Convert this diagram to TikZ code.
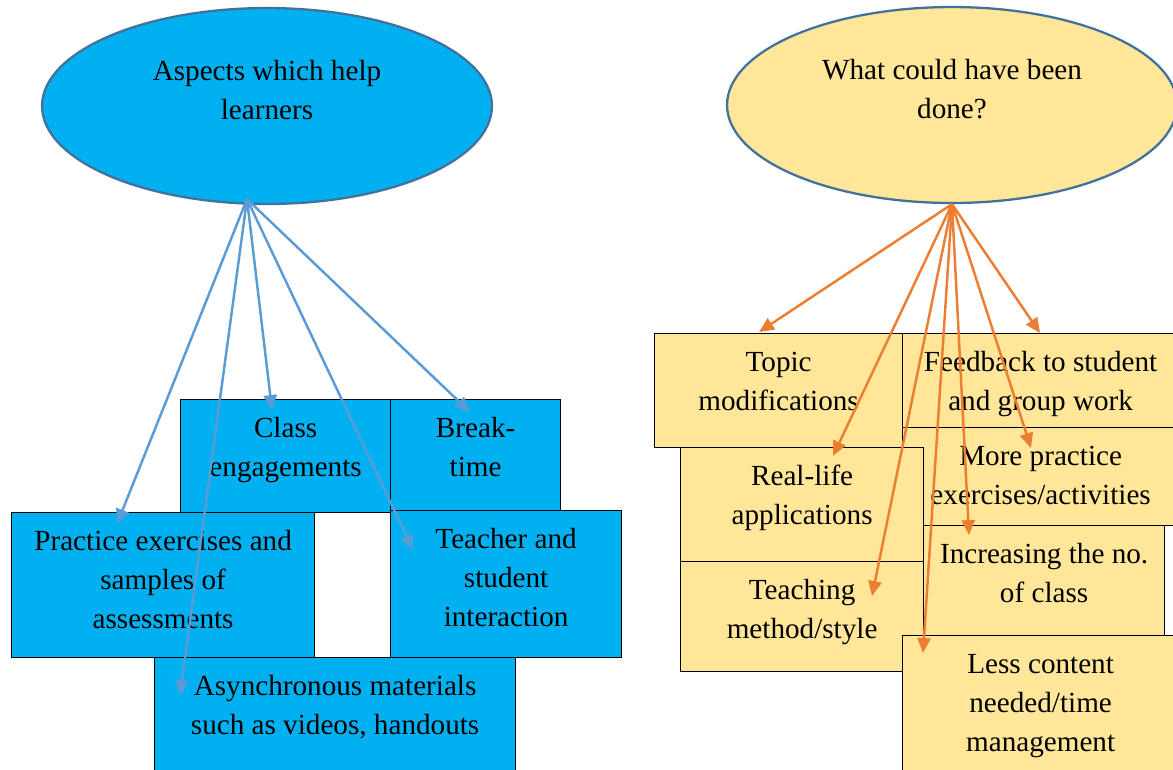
\documentclass[tikz,border=0pt]{standalone}
\usepackage{fontspec}
\setmainfont{Liberation Serif}
\usetikzlibrary{arrows.meta,calc,shapes.geometric}
\definecolor{cellblue}{HTML}{00B0F0}
\definecolor{cellyellow}{HTML}{FFE699}
\definecolor{rimblue}{HTML}{41719C}
\definecolor{linkblue}{HTML}{5B9BD5}
\definecolor{linkorange}{HTML}{ED7D31}
\newlength{\pxu}\setlength{\pxu}{0.02cm}
\begin{document}
\begin{tikzpicture}[x=0.02cm,y=-0.02cm,>={Triangle[length=8.5pt,width=7.5pt]},words/.style 2 args={inner sep=0pt,font=\fontsize{16.6}{22.2}\selectfont,execute at begin node={\begin{minipage}[t][#2\pxu][t]{#1\pxu}\centering\rule{0pt}{21.4pt}},execute at end node={\end{minipage}}},card/.style={draw=black,line width=0.7pt,anchor=north west},bluecard/.style 2 args={card,fill=cellblue,words={#1}{#2}},yellowcard/.style 2 args={card,fill=cellyellow,words={#1}{#2}},bubble/.style={ellipse,draw=rimblue,line width=1.3pt,minimum width=9cm,minimum height=3.92cm,words={300}{126}},bluelink/.style={->,draw=linkblue,fill=linkblue,line width=1.4pt},orangelink/.style={->,draw=linkorange,fill=linkorange,line width=1.4pt}]
\clip (0,0) rectangle (1173,769);
\node[bubble,fill=cellblue] (aspects) at (267,106) {Aspects which help\\learners};
\node[bubble,fill=cellyellow] (couldbe) at (952,105) {What could have been\\done?};
\node[bluecard={210}{113}] (class) at (180,399) {Class\\engagements}; \node[bluecard={170}{111}] (breaktime) at (390,399) {Break-\\time};
\node[bluecard={303}{145}] (practice) at (11,512) {Practice exercises and\\samples of\\assessments}; \node[bluecard={231}{147}] (teacher) at (390,510) {Teacher and\\student\\interaction};
\node[bluecard={361}{130}] (async) at (154,657) {Asynchronous materials\\such as videos, handouts};
\node[yellowcard={248}{114}] (topic) at (654,333) {Topic\\modifications}; \node[yellowcard={276}{94}] (feedback) at (902,333) {Feedback to student\\and group work};
\node[yellowcard={276}{98}] (morepractice) at (902,427) {More practice\\exercises/activities}; \node[yellowcard={243}{114}] (reallife) at (680,447) {Real-life\\applications};
\node[yellowcard={243}{110}] (teaching) at (680,561) {Teaching\\method/style}; \node[yellowcard={241}{110}] (increasing) at (923,525) {Increasing the no.\\of class};
\node[yellowcard={276}{150}] (lesscontent) at (902,635) {Less content\\needed/time\\management};
\coordinate (lhub) at ($(aspects.south)+(-20,-6)$); \coordinate (rhub) at (couldbe.south);
\draw[bluelink] (lhub) -- ($(practice.north west)+(106,12)$); \draw[bluelink] (lhub) -- ($(async.north west)+(26,38)$); \draw[bluelink] (lhub) -- ($(class.north west)+(92,11)$);
\draw[bluelink] (lhub) -- ($(teacher.north west)+(23,40)$); \draw[bluelink] (lhub) -- ($(breaktime.north west)+(80,13)$);
\draw[orangelink] (rhub) -- ($(topic.north west)+(105,-1)$); \draw[orangelink] (rhub) -- ($(reallife.north west)+(153,9)$); \draw[orangelink] (rhub) -- ($(teaching.north west)+(192,35)$);
\draw[orangelink] (rhub) -- ($(lesscontent.north west)+(21,18)$); \draw[orangelink] (rhub) -- ($(increasing.north west)+(46,10)$);
\draw[orangelink] (rhub) -- ($(morepractice.north west)+(129,21)$); \draw[orangelink] (rhub) -- ($(feedback.north west)+(138,0)$);
\end{tikzpicture}
\end{document}
